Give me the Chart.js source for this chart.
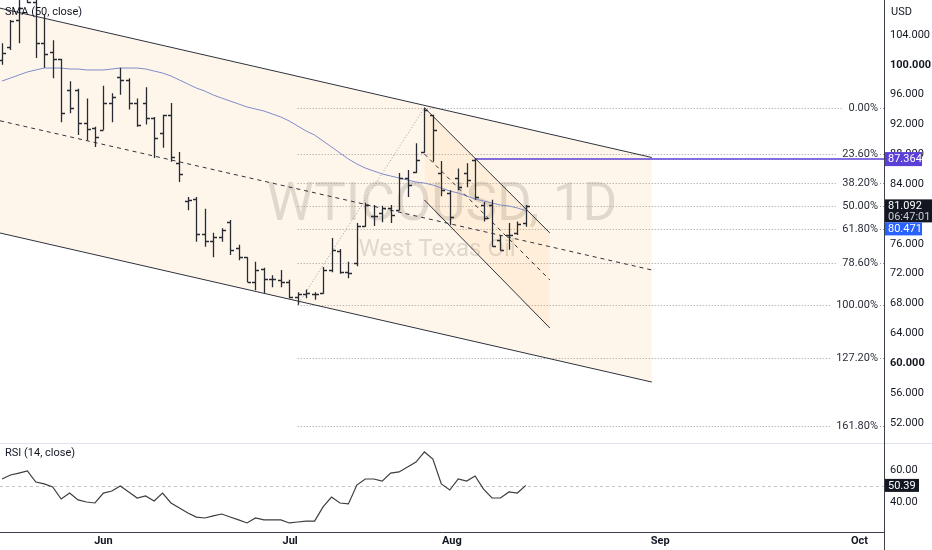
<!DOCTYPE html>
<html><head><meta charset="utf-8">
<script src="https://cdn.jsdelivr.net/npm/chart.js@4.4.1/dist/chart.umd.min.js"></script>
<style>
html,body{margin:0;padding:0;background:#fff;overflow:hidden}
#wrap{position:relative;width:932px;height:550px}
#main{position:absolute;left:0;top:0}
#rsi{position:absolute;left:0;top:443px}
</style></head><body>
<div id="wrap">
<canvas id="main" width="932" height="443"></canvas>
<canvas id="rsi" width="932" height="107"></canvas>
</div>
<script>
// ---------- DATA ----------
const opens  = [100.6,102.4,106.0,109.4,108.4,102.9,101.7,100.8,96.6,96.6, 92.2,91.5,91.3,94.9,98.4,98.0,94.9,94.9,92.9,90.9, 93.3,86.8,81.7,82.0,77.3,76.4,76.9,78.9,75.5,74.2, 70.9,72.6,71.3,71.2,70.9,68.9,69.3,69.3,69.4,72.5, 75.0,72.2,73.4,78.4,79.7,80.1,80.8,80.5,84.8,85.7, 88.3,93.3,85.5,82.8,84.8,85.5,87.2,81.2,81.2,76.5, 77.2,77.5,78.8];
const highs  = [102.9,106.0,109.4,112.0,109.4,106.7,103.3,100.8,97.8,96.8, 95.5,91.7,97.2,96.2,99.6,98.2,95.5,97.0,93.0,93.3, 94.9,88.3,82.3,82.3,80.7,77.5,78.1,79.2,75.9,74.2, 73.6,72.8,71.8,72.5,71.2,69.5,69.9,69.5,72.9,76.8, 75.3,73.6,78.8,81.5,81.2,81.1,81.2,85.5,85.9,89.5, 94.25,93.3,87.1,83.2,86.1,86.8,87.5,81.6,81.9,77.2, 78.8,79.0,81.2];
const lows   = [100.0,102.0,102.9,108.3,100.9,99.6,98.2,92.3,93.5,90.6, 89.9,89.0,91.3,92.3,96.0,94.0,91.7,92.0,87.5,88.9, 87.0,84.3,80.5,76.3,75.6,74.2,76.3,74.5,73.8,70.9, 69.8,69.4,70.2,70.2,68.7,67.85,68.7,68.5,69.3,72.2, 72.0,71.4,73.0,78.3,78.4,78.9,78.8,80.5,82.3,85.5, 88.2,87.0,82.4,78.5,83.2,83.6,81.9,79.0,75.6,75.1, 75.2,77.2,78.3];
const closes = [101.6,105.9,107.6,108.4,102.9,101.4,100.8,93.5,94.2,92.2, 91.4,90.3,94.9,95.7,98.0,94.9,92.0,92.9,90.2,93.3, 87.7,85.4,81.9,77.3,76.4,76.9,77.9,75.2,74.3,70.9, 72.5,71.3,71.3,70.9,68.9,69.3,69.4,69.3,72.5,75.2, 72.2,72.1,78.4,81.2,79.7,80.8,79.9,84.8,83.9,87.2, 94.0,91.3,83.2,79.6,83.6,84.6,82.3,79.5,75.7,75.2, 77.2,78.7,81.092];
const sma50  = [97.83,98.23,98.64,99.04,99.31,99.57,99.57,99.57,99.44,99.44, 99.31,99.31,99.31,99.44,99.57,99.57,99.57,99.44,99.17,98.90, 98.50,97.97,97.43,96.89,96.49,95.96,95.55,95.15,94.75,94.35, 94.08,93.81,93.41,93.01,92.47,91.80,91.13,90.59,89.79,88.99, 88.18,87.38,86.71,86.17,85.77,85.37,85.10,84.83,84.56,84.29, 84.16,83.89,83.49,83.09,82.82,82.42,82.01,81.75,81.48,81.21, 81.08,80.81,80.471];
const rsi14  = [54.4,56.9,58.1,59.4,52.5,51.3,49.4,41.9,45.6,41.3, 40.0,39.4,45.6,46.9,50.0,46.3,42.5,43.8,40.6,45.6, 39.4,36.3,33.1,30.6,30.0,31.3,32.5,30.6,28.8,26.9, 30.0,28.8,28.8,28.8,26.9,27.5,28.1,28.1,36.9,43.1, 39.4,38.8,50.6,54.4,54.4,53.1,58.1,58.8,61.9,65.0, 71.3,66.9,51.3,47.5,54.4,53.1,56.3,48.1,42.5,42.5, 46.3,45.6,50.39];

const monthTicks  = [12, 34.1, 53.25, 77.9, 101.5];
const monthLabels = ['Jun','Jul','Aug','Sep','Oct'];
const priceTicks  = [52,56,60,64,68,72,76,80,84,88,92,96,100,104];
const rsiTicks    = [40, 60];

// drawings (bar index, price)
const chanX = [-0.24, 76.92];
const chanUpper = [107.6, 87.58];
const chanLower = [77.46, 57.48];
const chanMid   = [92.5, 72.5];
const subX = [50, 64.85];
const subUpper = [94.25, 77.46];
const subLower = [81.88, 64.72];
const subMid   = [88.05, 71.16];
const fibTrendX = [35, 50];
const fibTrendY = [67.85, 94.25];
const fibLabels = ['0.00%','23.60%','38.20%','50.00%','61.80%','78.60%','100.00%','127.20%','161.80%'];
const fibPrices = [94.25, 88.02, 84.17, 81.05, 77.93, 73.50, 67.85, 60.67, 51.53];
const fibStartX = 35;
const hLineX = [56, 104.4];
const hLineY = [87.364, 87.364];
const lastPrice = 81.092, lastTime = '06:47:01', smaLast = 80.471, rsiLast = 50.39;

// ---------- CONFIG ----------
const X_MIN = -0.24, X_MAX = 104.4;
const FONT = 'Roboto, "Liberation Sans", sans-serif';
const pts = (xs, ys) => xs.map((x, i) => ({x, y: ys[i]}));
const line = (data, o) => Object.assign({type:'line', data, borderWidth:1, pointRadius:0, fill:false, borderColor:'#2e323c'}, o);

function fixAxis(w, h){
  return function(s){ if(w!=null) s.width=w; if(h!=null) s.height=h;
    s.paddingTop=0; s.paddingBottom=0; s.paddingLeft=0; s.paddingRight=0; };
}

const decor = {
  id:'decor',
  beforeDraw(chart){
    const {ctx, chartArea:a, scales:{x,y}} = chart;
    ctx.save();
    // watermark
    ctx.fillStyle = 'rgba(90,90,90,0.2)';
    ctx.textAlign = 'center'; ctx.textBaseline = 'middle';
    ctx.font = '53px ' + FONT;
    ctx.fillText('WTICOUSD, 1D', 442, 207);
    ctx.font = '24px ' + FONT;
    ctx.fillText('West Texas Oil', 437, 250);
    // fib levels
    ctx.font = '11px ' + FONT;
    ctx.textAlign = 'right';
    const x0 = x.getPixelForValue(fibStartX);
    fibPrices.forEach((p, i) => {
      const yy = Math.round(y.getPixelForValue(p)) + 0.5;
      const tw = ctx.measureText(fibLabels[i]).width;
      ctx.strokeStyle = '#9a9ca4'; ctx.lineWidth = 1; ctx.setLineDash([1,2]);
      ctx.beginPath(); ctx.moveTo(x0, yy); ctx.lineTo(878 - tw - 5, yy);
      ctx.moveTo(880, yy); ctx.lineTo(a.right, yy); ctx.stroke();
      ctx.setLineDash([]);
      ctx.fillStyle = '#2a2e39';
      ctx.fillText(fibLabels[i], 878, yy);
    });
    ctx.restore();
  },
  afterDatasetsDraw(chart){
    const {ctx, chartArea:a, scales:{x,y}} = chart;
    ctx.save();
    ctx.beginPath(); ctx.rect(a.left, a.top, a.right-a.left, a.bottom-a.top); ctx.clip();
    ctx.strokeStyle = '#262a33'; ctx.lineWidth = 1.3;
    ctx.beginPath();
    for (let i = 0; i < closes.length; i++){
      const xp = Math.round(x.getPixelForValue(i)) + 0.5;
      ctx.moveTo(xp, y.getPixelForValue(highs[i]));
      ctx.lineTo(xp, y.getPixelForValue(lows[i]));
      const yo = Math.round(y.getPixelForValue(opens[i])) + 0.5;
      const yc = Math.round(y.getPixelForValue(closes[i])) + 0.5;
      ctx.moveTo(xp - 3.5, yo); ctx.lineTo(xp, yo);
      ctx.moveTo(xp, yc); ctx.lineTo(xp + 3.5, yc);
    }
    ctx.stroke();
    ctx.restore();
  },
  afterDraw(chart){
    const {ctx, chartArea:a, scales:{y}} = chart;
    ctx.save();
    ctx.textBaseline = 'middle'; ctx.textAlign = 'left';
    ctx.font = '11px ' + FONT;
    ctx.fillStyle = '#131722';
    ctx.fillText('SMA (50, close)', 5, 12);
    ctx.fillText('USD', 891, 12);
    const L = a.right + 1;
    // purple level box
    let yy = y.getPixelForValue(hLineY[0]);
    ctx.fillStyle = '#5b3fd6'; ctx.fillRect(L, yy - 7, 37, 14);
    ctx.fillStyle = '#fff'; ctx.fillText(hLineY[0].toFixed(3), L + 3, yy + 0.5);
    // last price box
    yy = y.getPixelForValue(lastPrice);
    ctx.fillStyle = '#131722'; ctx.fillRect(L, yy - 6.5, 47, 23);
    ctx.fillStyle = '#fff'; ctx.fillText(lastPrice.toFixed(3), L + 3, yy + 0.5);
    ctx.fillStyle = '#c9cbd1'; ctx.fillText(lastTime, L + 3, yy + 11);
    // sma box (pushed below)
    const top = yy + 16.5;
    ctx.fillStyle = '#2962ff'; ctx.fillRect(L, top, 37, 13);
    ctx.fillStyle = '#fff'; ctx.fillText(smaLast.toFixed(3), L + 3, top + 7);
    ctx.restore();
  }
};

new Chart(document.getElementById('main'), {
  type:'line',
  data:{ datasets:[
    line(pts(chanX, chanUpper), {fill:1, backgroundColor:'rgba(255,160,30,0.09)'}),
    line(pts(chanX, chanLower)),
    line(pts(chanX, chanMid), {borderDash:[4,4]}),
    line(pts(subX, subUpper), {fill:4, backgroundColor:'rgba(255,160,30,0.08)'}),
    line(pts(subX, subLower)),
    line(pts(subX, subMid), {borderDash:[4,4]}),
    line(pts(fibTrendX, fibTrendY), {borderColor:'#9a9ca4', borderDash:[1,2]}),
    line(sma50.map((v,i)=>({x:i, y:v})), {borderColor:'#7f8bc8', borderWidth:1}),
    line(pts(hLineX, hLineY), {borderColor:'#5b3fd6', borderWidth:1.5})
  ]},
  options:{
    responsive:false, animation:false,
    layout:{padding:0, autoPadding:false},
    events:[],
    plugins:{legend:{display:false}, tooltip:{enabled:false},
      filler:{propagate:false, drawTime:'beforeDatasetsDraw'}},
    scales:{
      x:{type:'linear', min:X_MIN, max:X_MAX, display:false},
      y:{type:'linear', position:'right', min:49.31, max:108.69,
        afterFit: fixAxis(48, null),
        afterBuildTicks(s){ s.ticks = priceTicks.map(v=>({value:v})); },
        grid:{display:false, drawTicks:false},
        border:{display:true, color:'#3c404b', width:1},
        ticks:{padding:6, color:'#131722',
          font:(c)=>({family:FONT, size:11, weight:(c.tick && (c.tick.value===100 || c.tick.value===60)) ? 'bold' : 'normal'}),
          callback:(v)=>Number(v).toFixed(3)}
      }
    }
  },
  plugins:[decor]
});

const rsiDecor = {
  id:'rsiDecor',
  beforeDatasetsDraw(chart){
    const {ctx, chartArea:a, scales:{y}} = chart;
    ctx.save();
    const yy = Math.round(y.getPixelForValue(50)) + 0.5;
    ctx.strokeStyle = '#c3c5cc'; ctx.setLineDash([3,3]); ctx.lineWidth = 1;
    ctx.beginPath(); ctx.moveTo(a.left, yy); ctx.lineTo(a.right, yy); ctx.stroke();
    ctx.restore();
  },
  afterDraw(chart){
    const {ctx, chartArea:a, scales:{y}, width, height} = chart;
    ctx.save();
    ctx.strokeStyle = '#e0e3eb'; ctx.lineWidth = 1;
    ctx.beginPath(); ctx.moveTo(0, 0.5); ctx.lineTo(width, 0.5); ctx.stroke();
    ctx.strokeStyle = '#3c404b';
    ctx.beginPath(); ctx.moveTo(a.right + 0.5, 0); ctx.lineTo(a.right + 0.5, height); ctx.stroke();
    ctx.font = '11px ' + FONT; ctx.textBaseline = 'middle'; ctx.textAlign = 'left';
    ctx.fillStyle = '#131722';
    ctx.fillText('RSI (14, close)', 5, 10);
    const yy = y.getPixelForValue(rsiLast);
    ctx.fillStyle = '#131722'; ctx.fillRect(a.right + 1, yy - 6.5, 34, 13);
    ctx.fillStyle = '#fff'; ctx.fillText(rsiLast.toFixed(2), a.right + 4, yy + 0.5);
    ctx.restore();
  }
};

new Chart(document.getElementById('rsi'), {
  type:'line',
  data:{ datasets:[
    line(rsi14.map((v,i)=>({x:i, y:v})), {borderColor:'#3d3d3d', borderWidth:1.2})
  ]},
  options:{
    responsive:false, animation:false,
    layout:{padding:0, autoPadding:false},
    events:[],
    plugins:{legend:{display:false}, tooltip:{enabled:false}},
    scales:{
      x:{type:'linear', min:X_MIN, max:X_MAX,
        afterFit: fixAxis(null, 18),
        afterBuildTicks(s){ s.ticks = monthTicks.map(v=>({value:v})); },
        grid:{display:false, drawTicks:false},
        border:{display:true, color:'#3c404b', width:1},
        ticks:{padding:3, color:'#131722', maxRotation:0, autoSkip:false,
          font:{family:FONT, size:11, weight:'bold'},
          callback:(v,i)=>monthLabels[i]}
      },
      y:{type:'linear', position:'right', min:21.25, max:76.9,
        afterFit: fixAxis(48, null),
        afterBuildTicks(s){ s.ticks = rsiTicks.map(v=>({value:v})); },
        grid:{display:false, drawTicks:false},
        border:{display:true, color:'#3c404b', width:1},
        ticks:{padding:6, color:'#131722', font:{family:FONT, size:11},
          callback:(v)=>Number(v).toFixed(2)}
      }
    }
  },
  plugins:[rsiDecor]
});
</script>
</body></html>
